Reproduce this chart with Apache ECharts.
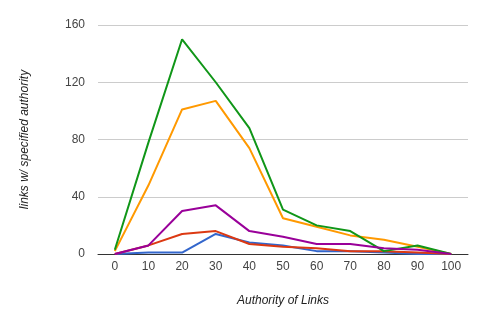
<!DOCTYPE html>
<html>
<head>
<meta charset="utf-8">
<script src="https://cdn.jsdelivr.net/npm/echarts@6/dist/echarts.min.js"></script>
<style>
  html, body { margin: 0; padding: 0; background: #fff; }
  #root { width: 478px; height: 311px; }
</style>
</head>
<body>
<div id="root"></div>
<script>
// authority buckets
const categories = ['0', '10', '20', '30', '40', '50', '60', '70', '80', '90', '100'];
const yTicks = [0, 40, 80, 120, 160];

// series values
const blueData = [0, 1, 1, 14, 8, 6, 2, 2, 1, 0, 0];
const redData = [0, 6, 14, 16, 7, 5, 4, 2, 2, 1, 0];
const orangeData = [2, 48, 101, 107, 74, 25, 19, 13, 10, 5, 0];
const greenData = [3, 78, 150, 120, 88, 31, 20, 16, 2, 6, 0];
const purpleData = [0, 6, 30, 34, 16, 12, 7, 7, 4, 3, 0];

const seriesList = [
  { data: blueData, color: '#3366cc' },
  { data: redData, color: '#dc3912' },
  { data: orangeData, color: '#ff9900' },
  { data: greenData, color: '#109618' },
  { data: purpleData, color: '#990099' },
];

const FONT = '"Liberation Sans", Arial, sans-serif';

const myChart = echarts.init(document.getElementById('root'));
myChart.setOption({
  animation: false,
  grid: { left: 98, right: 10, top: 25, bottom: 57, outerBoundsMode: 'none', containLabel: false },
  xAxis: {
    type: 'category',
    data: categories,
    boundaryGap: true,
    name: 'Authority of Links',
    nameLocation: 'middle',
    nameGap: 41,
    nameTextStyle: { fontFamily: FONT, fontSize: 12, fontStyle: 'italic', color: '#222' },
    axisLine: { lineStyle: { color: '#333', width: 1 } },
    axisTick: { show: false },
    axisLabel: { fontFamily: FONT, fontSize: 12, color: '#444', margin: 7 },
  },
  yAxis: {
    type: 'value',
    min: yTicks[0],
    max: yTicks[yTicks.length - 1],
    interval: 40,
    name: 'links w/ specified authority',
    nameLocation: 'middle',
    nameGap: 67,
    nameTextStyle: { fontFamily: FONT, fontSize: 12, fontStyle: 'italic', color: '#222' },
    axisLine: { show: false },
    axisTick: { show: false },
    axisLabel: { fontFamily: FONT, fontSize: 12, color: '#444', margin: 13 },
    splitLine: { lineStyle: { color: '#cccccc', width: 1 } },
  },
  series: seriesList.map((s) => ({
    type: 'line',
    data: s.data,
    symbol: 'none',
    color: s.color,
    lineStyle: { width: 2, color: s.color },
  })),
});
</script>
</body>
</html>
